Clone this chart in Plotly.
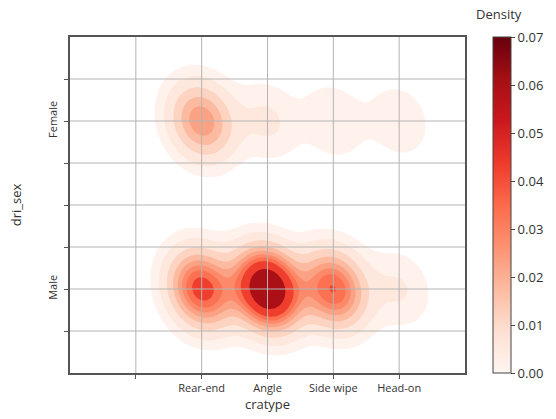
import numpy as np
import plotly.graph_objects as go
from plotly.colors import sample_colorscale

# Crash records per collision type, split by driver sex
cratypes = ["Rear-end", "Angle", "Side wipe", "Head-on"]
sexes = ["Female", "Male"]
female_counts = [57, 13, 11, 10]
male_counts = [91, 153, 82, 12]

# Colour bar scale
density_max = 0.07
density_ticks = [0.00, 0.01, 0.02, 0.03, 0.04, 0.05, 0.06, 0.07]

# Grid positions (category codes and half steps)
x_gridvals = [-1, 0, 1, 2, 3]
y_gridvals = [-0.25, 0, 0.25, 0.5, 0.75, 1.0, 1.25]

REDS = ["#fff5f0", "#fee0d2", "#fcbba1", "#fc9272", "#fb6a4a",
        "#ef3b2c", "#cb181d", "#a50f15", "#67000d"]
reds_scale = [[i / (len(REDS) - 1), c] for i, c in enumerate(REDS)]

# ---- bivariate Gaussian KDE on the coded categories (Scott bandwidth) ----
xs = np.array([i for _ in sexes for i in range(len(cratypes))], float)
ys = np.array([s for s in range(len(sexes)) for _ in cratypes], float)
w = np.array(female_counts + male_counts, float)
n = w.sum()
pts = np.vstack([xs, ys])
mean = (pts * w).sum(axis=1) / n
dev = pts - mean[:, None]
cov = (dev * w) @ dev.T / (n - 1)
factor = n ** (-1.0 / 6.0)
kcov = cov * factor ** 2
kinv = np.linalg.inv(kcov)
knorm = 1.0 / (2 * np.pi * np.sqrt(np.linalg.det(kcov)))
bw = np.sqrt(np.diag(kcov))

gx = np.linspace(xs.min() - 3 * bw[0], xs.max() + 3 * bw[0], 200)
gy = np.linspace(ys.min() - 3 * bw[1], ys.max() + 3 * bw[1], 200)
GX, GY = np.meshgrid(gx, gy)
dens = np.zeros_like(GX)
for xi, yi, wi in zip(xs, ys, w):
    dx, dy = GX - xi, GY - yi
    q = kinv[0, 0] * dx * dx + 2 * kinv[0, 1] * dx * dy + kinv[1, 1] * dy * dy
    dens += (wi / n) * knorm * np.exp(-0.5 * q)

z = dens / dens.max() * density_max

# iso-proportion contour levels (10 levels, lowest at 5% mass)
props = np.linspace(0.05, 1.0, 10)
vals = np.sort(z.ravel())[::-1]
cum = np.cumsum(vals) / vals.sum()
levels = np.take(vals, np.searchsorted(cum, 1 - props), mode="clip")
nlev = len(levels)

mids = (levels[:-1] + levels[1:]) / 2
tpos = (mids - levels[0]) / (levels[-1] - levels[0])
band_colors = sample_colorscale(reds_scale, list(np.clip(tpos, 0, 1)))

# map density onto level index so bands can be drawn with unit spacing
zt = np.where(z < levels[0], z / levels[0] - 1.0,
              np.interp(z, levels, np.arange(nlev)))

cols = ["rgba(255,255,255,0)"] + band_colors
nb = len(cols) - 1
stops = []
for j, c in enumerate(cols):
    lo = 0.0 if j == 0 else (j - 0.5) / nb + 1e-4
    hi = 1.0 if j == nb else (j + 0.5) / nb - 1e-4
    stops += [[lo, c], [hi, c]]

fig = go.Figure()
fig.add_trace(go.Contour(
    x=gx, y=gy, z=zt,
    autocontour=False,
    contours=dict(start=0, end=nlev - 2, size=1, coloring="fill", showlines=False),
    colorscale=stops, line=dict(width=0), showscale=False, hoverinfo="skip",
))

# colour bar for the density scale
fig.add_trace(go.Scatter(
    x=[None], y=[None], mode="markers", hoverinfo="skip", showlegend=False,
    marker=dict(
        color=[0], cmin=0, cmax=density_max, colorscale=reds_scale, showscale=True,
        colorbar=dict(
            x=1.07, xanchor="left", y=0.5, yanchor="middle", len=1, lenmode="fraction",
            thickness=18, xpad=0, ypad=0, outlinewidth=1, outlinecolor="#444",
            tickvals=density_ticks, tickformat=".2f", ticks="outside", ticklen=4,
            tickcolor="#444", tickfont=dict(size=13, color="#333"),
        ),
    ),
))
fig.add_annotation(text="Density", xref="paper", yref="paper", x=1.085, y=1.0,
                   xanchor="center", yanchor="bottom", yshift=12, showarrow=False,
                   font=dict(size=13, color="#333"))

# grid drawn over the filled contours
for xv in x_gridvals:
    fig.add_shape(type="line", xref="x", yref="paper", x0=xv, x1=xv, y0=0, y1=1,
                  line=dict(color="#b4b4b4", width=1), layer="above")
for yv in y_gridvals:
    fig.add_shape(type="line", xref="paper", yref="y", x0=0, x1=1, y0=yv, y1=yv,
                  line=dict(color="#b4b4b4", width=1), layer="above")

axis_common = dict(showgrid=False, zeroline=False, showline=True, mirror=True,
                   linecolor="#555", linewidth=1.5, ticks="outside", ticklen=4,
                   tickcolor="#555", layer="above traces")

fig.update_xaxes(range=[-2, 4], tickvals=x_gridvals,
                 ticktext=[""] + cratypes,
                 tickfont=dict(size=11, color="#333"),
                 title=dict(text="cratype", font=dict(size=13, color="#333"), standoff=4),
                 **axis_common)
y_text = ["" for _ in y_gridvals]
y_text[y_gridvals.index(0)] = sexes[0]
y_text[y_gridvals.index(1.0)] = sexes[1]
fig.update_yaxes(range=[1.5, -0.5], tickvals=y_gridvals, ticktext=y_text,
                 tickangle=-90, tickfont=dict(size=11, color="#333"),
                 ticklabelstandoff=3,
                 title=dict(text="dri_sex", font=dict(size=13, color="#333"), standoff=20),
                 **axis_common)

fig.update_layout(
    width=556, height=419,
    margin=dict(l=70, r=86, t=37, b=46),
    paper_bgcolor="white", plot_bgcolor="white",
    font=dict(family="Open Sans, DejaVu Sans, sans-serif"),
    showlegend=False,
)

fig.write_html("out.html")
